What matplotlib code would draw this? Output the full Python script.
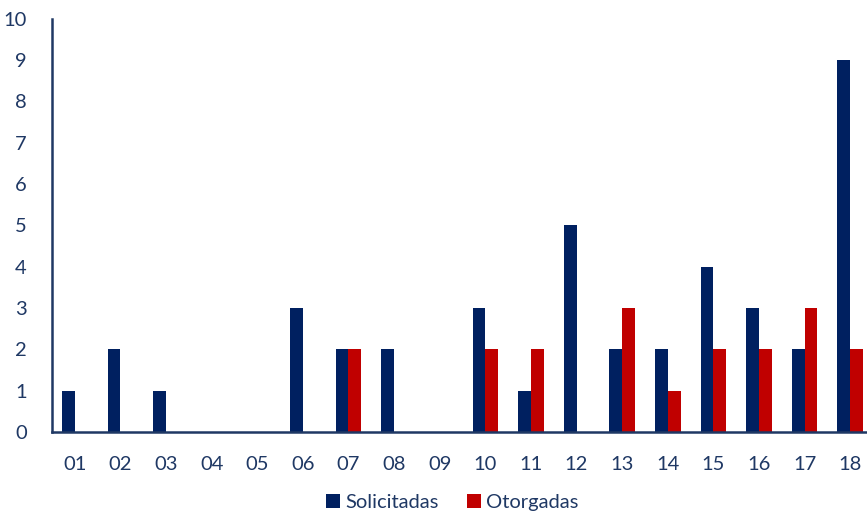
import numpy as np
import matplotlib.pyplot as plt

# data
categories = ["01", "02", "03", "04", "05", "06", "07", "08", "09",
              "10", "11", "12", "13", "14", "15", "16", "17", "18"]
solicitadas = [1, 2, 1, 0, 0, 3, 2, 2, 0, 3, 1, 5, 2, 2, 4, 3, 2, 9]
otorgadas = [0, 0, 0, 0, 0, 0, 2, 0, 0, 2, 2, 0, 3, 1, 2, 2, 3, 2]

navy = "#002060"
red = "#C00000"
text_color = "#1F3864"

plt.rcParams['font.family'] = ['Lato', 'DejaVu Sans']

fig = plt.figure(figsize=(8.67, 5.14), dpi=100)
ax = fig.add_axes([52 / 867, 82 / 514, 821 / 867, 413.5 / 514])

x = np.arange(len(categories))
w = 0.28
ax.bar(x - w / 2, solicitadas, w, color=navy, label="Solicitadas")
ax.bar(x + w / 2, otorgadas, w, color=red, label="Otorgadas")

ax.set_xlim(-0.5, len(categories) - 0.5)
ax.set_ylim(0, 10)
ax.set_xticks(x)
ax.set_xticklabels(categories)
ax.set_yticks(range(0, 11))
ax.tick_params(axis='both', length=0, labelsize=14.5, colors=text_color)
ax.tick_params(axis='x', pad=17)
ax.tick_params(axis='y', pad=18)

for side in ["top", "right"]:
    ax.spines[side].set_visible(False)
for side in ["left", "bottom"]:
    ax.spines[side].set_color(text_color)
    ax.spines[side].set_linewidth(1.8)

fig.legend(loc="lower center", bbox_to_anchor=(452 / 867, -0.03), ncol=2,
           frameon=False, fontsize=14.5, labelcolor=text_color,
           handlelength=0.7, handleheight=0.7, handletextpad=0.25,
           columnspacing=1.4)

fig.savefig("out.png", dpi=100)
